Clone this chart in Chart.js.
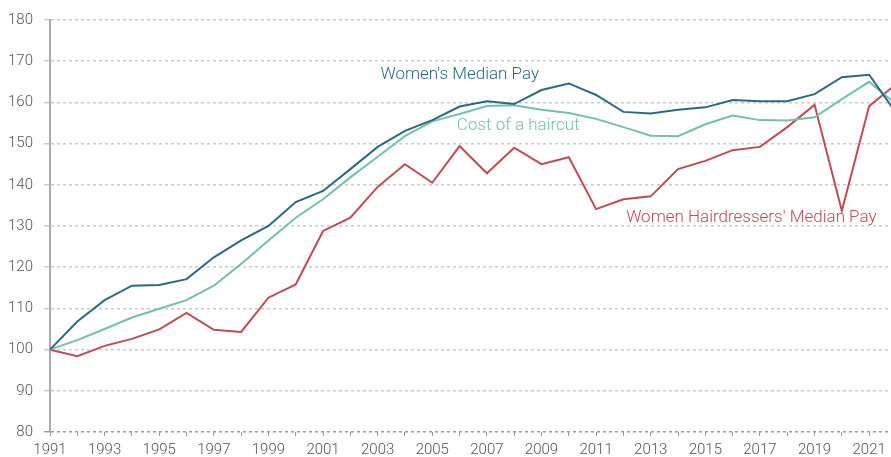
<!DOCTYPE html>
<html>
<head>
<meta charset="utf-8">
<script src="https://cdn.jsdelivr.net/npm/chart.js@4/dist/chart.umd.min.js"></script>
<style>
  html, body { margin: 0; padding: 0; background: #fff; }
  #wrap { width: 891px; height: 457px; position: relative; }
</style>
</head>
<body>
<div id="wrap"><canvas id="chart"></canvas></div>
<script>
// Index values, 1991 = 100
const years = [1991, 1992, 1993, 1994, 1995, 1996, 1997, 1998, 1999, 2000,
               2001, 2002, 2003, 2004, 2005, 2006, 2007, 2008, 2009, 2010,
               2011, 2012, 2013, 2014, 2015, 2016, 2017, 2018, 2019, 2020,
               2021, 2022];

const womensPay = [100, 106.8, 112.0, 115.5, 115.7, 117.1, 122.4, 126.5, 130.0, 135.8,
                   138.5, 143.8, 149.2, 153.1, 155.7, 159.0, 160.3, 159.6, 163.0, 164.6,
                   161.8, 157.7, 157.3, 158.2, 158.8, 160.6, 160.3, 160.3, 162.0, 166.1,
                   166.7, 157.3];

const haircutCost = [100, 102.3, 105.0, 107.8, 109.9, 112.0, 115.5, 120.8, 126.5, 132.0,
                     136.5, 141.8, 146.8, 151.8, 155.4, 157.2, 159.1, 159.3, 158.2, 157.4,
                     156.0, 154.0, 151.9, 151.8, 154.7, 156.8, 155.7, 155.6, 156.4, 160.8,
                     165.0, 159.5];

const hairdressersPay = [100, 98.4, 100.9, 102.6, 104.9, 108.9, 104.8, 104.3, 112.6, 115.8,
                         128.8, 132.0, 139.5, 145.0, 140.5, 149.4, 142.8, 149.0, 145.0, 146.7,
                         134.1, 136.5, 137.2, 143.8, 145.8, 148.4, 149.2, 154.0, 159.4, 133.7,
                         159.1, 164.5];

const yTicks = [80, 90, 100, 110, 120, 130, 140, 150, 160, 170, 180];

const BLUE = "#2a6a80";
const TEAL = "#72c0ad";
const RED = "#c14a53";
const FONT = "Roboto, 'Liberation Sans', sans-serif";

// Series names written next to their lines: [text, year, value, colour]
const seriesLabels = [
    ["Women's Median Pay", 2003.1, 166.7, BLUE],
    ["Cost of a haircut", 2005.9, 154.4, TEAL],
    ["Women Hairdressers' Median Pay", 2012.1, 131.9, RED]
];

const toPoints = values => years.map((yr, i) => ({ x: yr, y: values[i] }));

const lineLabels = {
    id: "lineLabels",
    afterDatasetsDraw(chart) {
        const { ctx, scales: { x, y } } = chart;
        ctx.save();
        ctx.font = "300 17px " + FONT;
        ctx.textAlign = "left";
        ctx.textBaseline = "middle";
        seriesLabels.forEach(([text, yr, val, color]) => {
            ctx.fillStyle = color;
            ctx.fillText(text, x.getPixelForValue(yr), y.getPixelForValue(val));
        });
        ctx.restore();
    }
};

const lineStyle = color => ({
    borderColor: color,
    backgroundColor: color,
    borderWidth: 2,
    pointRadius: 0,
    tension: 0,
    fill: false
});

new Chart(document.getElementById("chart"), {
    type: "line",
    data: {
        datasets: [
            { label: "Women's Median Pay", data: toPoints(womensPay), ...lineStyle(BLUE) },
            { label: "Cost of a haircut", data: toPoints(haircutCost), ...lineStyle(TEAL) },
            { label: "Women Hairdressers' Median Pay", data: toPoints(hairdressersPay), ...lineStyle(RED) }
        ]
    },
    options: {
        responsive: true,
        maintainAspectRatio: false,
        animation: false,
        layout: { padding: { top: 11, right: 0, bottom: 0, left: 0 } },
        plugins: {
            legend: { display: false },
            tooltip: { enabled: false }
        },
        scales: {
            x: {
                type: "linear",
                min: 1991,
                max: 2021.8,
                afterBuildTicks: axis => {
                    axis.ticks = years.filter(yr => yr <= 2021).map(yr => ({ value: yr }));
                },
                afterFit: axis => { axis.height = 25; },
                ticks: {
                    autoSkip: false,
                    maxRotation: 0,
                    padding: 5,
                    color: "#555",
                    font: { family: FONT, size: 15, weight: "300" },
                    callback: v => ((v - 1991) % 2 === 0 ? String(v) : "")
                },
                grid: {
                    drawOnChartArea: false,
                    drawTicks: true,
                    tickLength: 4,
                    tickColor: "#999",
                    tickWidth: 1
                },
                border: { display: false }
            },
            y: {
                min: 80,
                max: 180,
                afterBuildTicks: axis => {
                    axis.ticks = yTicks.map(v => ({ value: v }));
                },
                afterFit: axis => { axis.width = 50; },
                ticks: {
                    padding: 11,
                    color: "#555",
                    font: { family: FONT, size: 15, weight: "300" }
                },
                grid: {
                    color: ctx => (ctx.tick && ctx.tick.value === 80 ? "#9a9a9a" : "#cccccc"),
                    lineWidth: 1.5,
                    tickLength: 6
                },
                border: {
                    display: true,
                    color: "#aaaaaa",
                    width: 2,
                    dash: [3, 3]
                }
            }
        }
    },
    plugins: [lineLabels]
});
</script>
</body>
</html>
